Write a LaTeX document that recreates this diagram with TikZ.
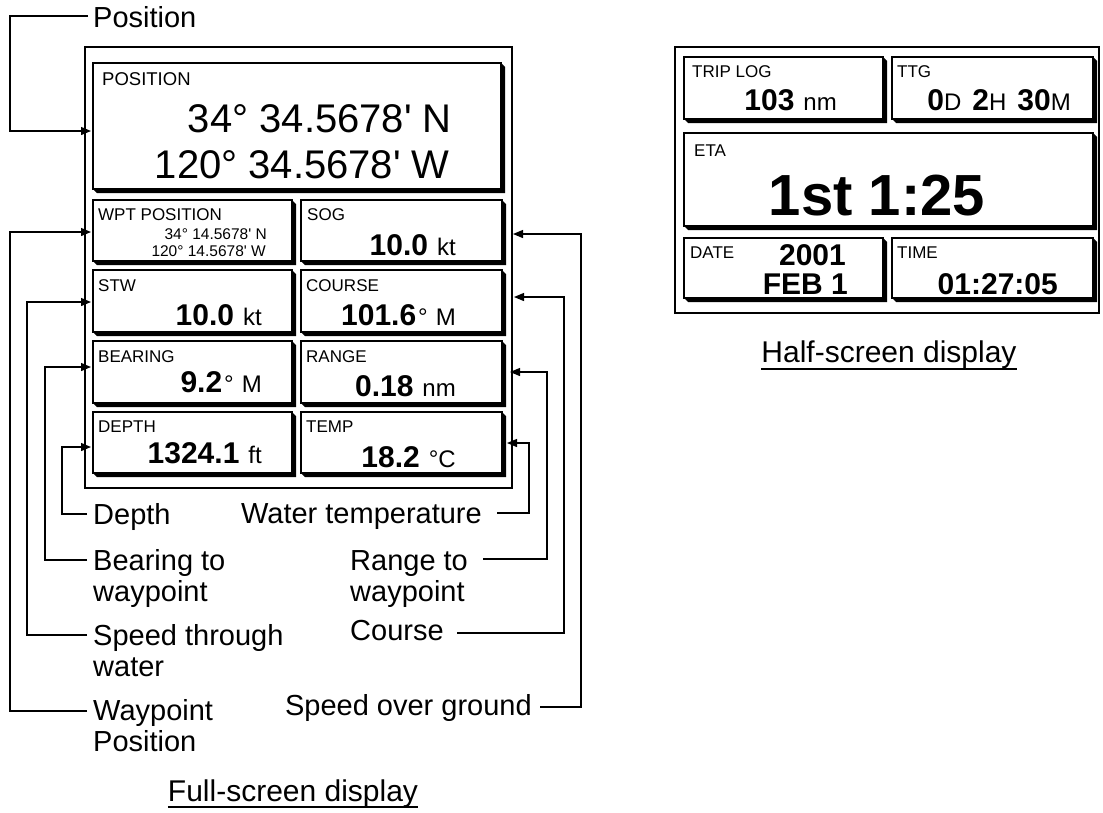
\documentclass[tikz,border=0pt]{standalone}
\usepackage{fontspec}
\setmainfont{Liberation Sans}
\usetikzlibrary{arrows.meta}
\newcommand{\fs}[1]{\fontsize{#1}{#1}\selectfont}
\newcommand{\apos}{\textquotesingle}
\newcommand{\bv}[1]{{\bfseries\fs{30}#1}}
\newcommand{\un}[1]{{\fs{24}#1}}
\newcommand{\shbox}[5]{%
  \fill ({#4},{#3}) -- ({#4+4},{#3+4}) -- ({#4+4},{#5+4}) -- ({#2+4},{#5+4}) -- ({#2},{#5}) -- cycle;
  \node[panel, minimum width={#4-#2}, minimum height={#5-#3}] (#1) at ({(#2+#4)/2},{(#3+#5)/2}) {};}
\begin{document}
\begin{tikzpicture}[x=1pt,y=-1pt,
  panel/.style={draw, fill=white, line width=1.3pt, inner sep=0pt},
  frame/.style={draw, line width=2.8pt, inner sep=0pt},
  lbl/.style={anchor=base west, inner sep=0pt, font=\fs{17}},
  val/.style={anchor=base east, inner sep=0pt},
  callout/.style={inner sep=0pt, font=\fontsize{29}{31}\selectfont, align=left},
  lead/.style={line width=1.2pt},
  arr/.style={lead, -{Triangle[length=10pt,width=8pt]}}]
\fill[white] (0,0) rectangle (1103,812);
\useasboundingbox (0,0) rectangle (1103,812);

% ---------- Full-screen display ----------
\node[frame, minimum width=427, minimum height=441] (fsFrame) at (298.5,267.5) {};
\shbox{pos}{93}{63}{501}{189}
\shbox{wpt}{93}{200}{292}{261}
\shbox{sog}{301}{200}{502}{261}
\shbox{stw}{93}{270}{292}{332}
\shbox{crs}{301}{270}{502}{332}
\shbox{brg}{93}{341}{292}{403}
\shbox{rng}{301}{341}{502}{403}
\shbox{dep}{93}{412}{292}{473}
\shbox{tmp}{301}{412}{502}{473}

\node[lbl, font=\fs{18.5}] (kPos) at (102,85) {POSITION};
\node[val, font=\fs{40}] (vPos1) at (452,132) {34° 34.5678\apos{} N};
\node[val, font=\fs{40}] (vPos2) at (450,178) {120° 34.5678\apos{} W};

\node[lbl] (kWpt) at (98,220) {WPT POSITION};
\node[val, font=\fs{15.5}] (vWpt1) at (267,239) {34° 14.5678\apos{} N};
\node[val, font=\fs{15.5}] (vWpt2) at (266,256) {120° 14.5678\apos{} W};

\node[lbl] (kSog) at (307,220) {SOG};
\node[val] (vSog) at (456,255) {\bv{10.0}\hspace{9pt}\un{kt}};
\node[lbl] (kStw) at (98,291) {STW};
\node[val] (vStw) at (262,325) {\bv{10.0}\hspace{9pt}\un{kt}};
\node[lbl] (kCrs) at (306,291) {COURSE};
\node[val] (vCrs) at (456,325) {\bv{101.6}\hspace{2pt}\un{°\hspace{8pt}M}};
\node[lbl] (kBrg) at (98,362) {BEARING};
\node[val] (vBrg) at (262,392) {\bv{9.2}\hspace{2pt}\un{°\hspace{8pt}M}};
\node[lbl] (kRng) at (306,362) {RANGE};
\node[val] (vRng) at (456,396) {\bv{0.18}\hspace{9pt}\un{nm}};
\node[lbl] (kDep) at (98,432) {DEPTH};
\node[val] (vDep) at (262,463) {\bv{1324.1}\hspace{9pt}\un{ft}};
\node[lbl] (kTmp) at (306,432) {TEMP};
\node[val] (vTmp) at (456,467) {\bv{18.2}\hspace{9pt}\un{°C}};

% callout texts (base anchor = baseline of the last line)
\node[callout, anchor=base west] (lPos) at (93,27) {Position};
\node[callout, anchor=base west] (lDep) at (93,524) {Depth};
\node[callout, anchor=base west] (lBrg) at (93,601) {Bearing to\\waypoint};
\node[callout, anchor=base west] (lStw) at (93,676) {Speed through\\water};
\node[callout, anchor=base west] (lWpt) at (93,751) {Waypoint\\Position};
\node[callout, anchor=base east] (lTmp) at (482,523) {Water temperature};
\node[callout, anchor=base west] (lRng) at (350,601) {Range to\\waypoint};
\node[callout, anchor=base west] (lCrs) at (350,640) {Course};
\node[callout, anchor=base east] (lSog) at (532,715) {Speed over ground};

% leader start points and arrow tips
\coordinate (cPos) at (88,16);   \coordinate (tPos) at (91,131);
\coordinate (cWpt) at (87,711);  \coordinate (tWpt) at (91,232);
\coordinate (cStw) at (87,635);  \coordinate (tStw) at (91,302);
\coordinate (cBrg) at (87,560);  \coordinate (tBrg) at (91,367);
\coordinate (cDep) at (87,514);  \coordinate (tDep) at (91,447);
\coordinate (cTmp) at (497,513); \coordinate (tTmp) at (507,443);
\coordinate (cRng) at (483,559); \coordinate (tRng) at (510,372);
\coordinate (cCrs) at (457,633); \coordinate (tCrs) at (514,297);
\coordinate (cSog) at (540,707); \coordinate (tSog) at (513,234);

\draw[arr] (cPos) -- (10,16) -- (10,131) -- (tPos);
\draw[arr] (cWpt) -- (10,711) -- (10,232) -- (tWpt);
\draw[arr] (cStw) -- (27,635) -- (27,302) -- (tStw);
\draw[arr] (cBrg) -- (45,560) -- (45,367) -- (tBrg);
\draw[arr] (cDep) -- (62,514) -- (62,447) -- (tDep);
\draw[arr] (cTmp) -- (529,513) -- (529,443) -- (tTmp);
\draw[arr] (cRng) -- (547,559) -- (547,372) -- (tRng);
\draw[arr] (cCrs) -- (564,633) -- (564,297) -- (tCrs);
\draw[arr] (cSog) -- (581,707) -- (581,234) -- (tSog);

\node[anchor=base, inner sep=0pt, font=\fs{30}] (tFull) at (293,801) {Full-screen display};
\draw[lead] ([yshift=-6pt]tFull.base west) -- ([yshift=-6pt]tFull.base east);

% ---------- Half-screen display ----------
\node[draw, line width=2pt, inner sep=0pt, minimum width=424, minimum height=266] (hsFrame) at (887,180) {};
\shbox{trip}{684}{57}{883}{119}
\shbox{ttg}{892}{57}{1093}{119}
\shbox{eta}{684}{133}{1093}{226}
\shbox{date}{684}{238}{883}{298}
\shbox{time}{892}{238}{1093}{298}

\node[lbl] (kTrip) at (692,77) {TRIP LOG};
\node[val] (vTrip) at (837,110) {\bv{103}\hspace{9pt}\un{nm}};
\node[lbl] (kTtg) at (897,77) {TTG};
\node[val] (vTtg) at (1071,110) {\bv{0}\un{D}\hspace{11pt}\bv{2}\un{H}\hspace{11pt}\bv{30}\un{M}};
\node[lbl] (kEta) at (694,156) {ETA};
\node[anchor=base, inner sep=0pt, font=\bfseries\fs{58}] (vEta) at (877,215) {1st 1:25};
\node[lbl] (kDate) at (690,258) {DATE};
\node[val] (vYear) at (846,265) {\bv{2001}};
\node[val] (vDay) at (848,294) {\bv{FEB 1}};
\node[lbl] (kTime) at (897,258) {TIME};
\node[val] (vTime) at (1058,294) {\bv{01:27:05}};

\node[anchor=base, inner sep=0pt, font=\fs{30}] (tHalf) at (889,362) {Half-screen display};
\draw[lead] ([yshift=-7pt]tHalf.base west) -- ([yshift=-7pt]tHalf.base east);
\end{tikzpicture}
\end{document}
